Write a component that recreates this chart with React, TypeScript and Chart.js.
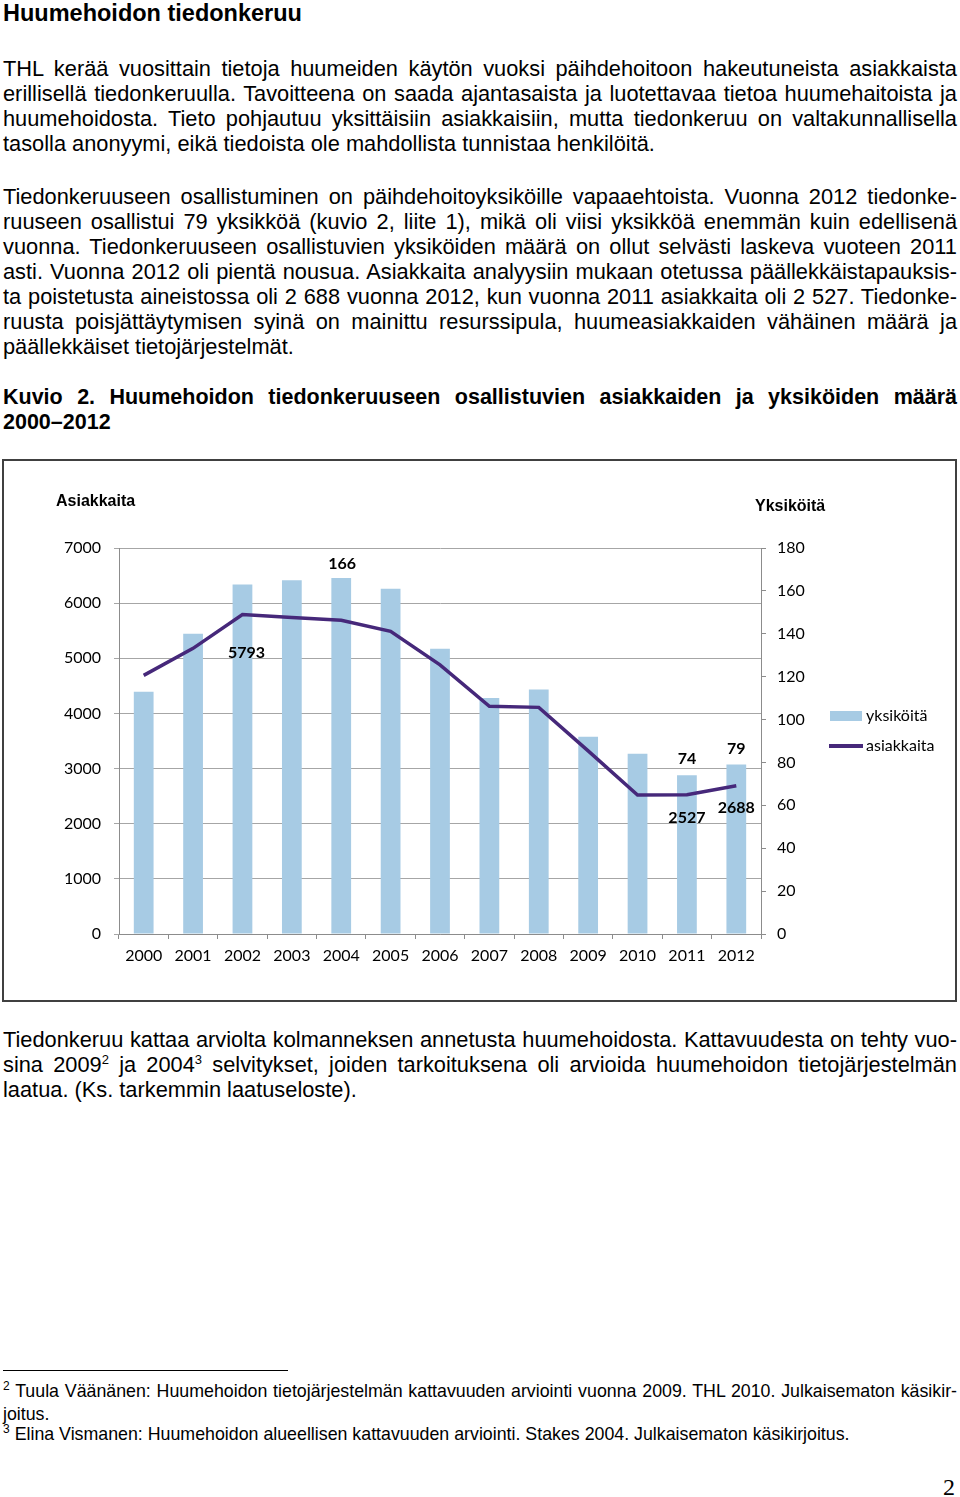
import React, { useEffect, useRef } from "react";
import { Chart, registerables } from "chart.js";

Chart.register(...registerables);

// ---- chart data ----
const years = ["2000", "2001", "2002", "2003", "2004", "2005", "2006", "2007", "2008", "2009", "2010", "2011", "2012"];
const yksikoita = [113, 140, 163, 165, 166, 161, 133, 110, 114, 92, 84, 74, 79];
const asiakkaita = [4690, 5180, 5793, 5740, 5690, 5490, 4880, 4130, 4110, 3320, 2520, 2527, 2688];
const leftAxisMax = 7000;
const leftAxisStep = 1000;
const rightAxisMax = 180;
const rightAxisStep = 20;
// which points carry a value label: dataset index, point index, offset
const labelSpecs = [
  { ds: 0, i: 4, dx: 1, dy: -14 },
  { ds: 0, i: 11, dx: 0, dy: -16 },
  { ds: 0, i: 12, dx: 0, dy: -16 },
  { ds: 1, i: 2, dx: 4, dy: 38 },
  { ds: 1, i: 11, dx: 0, dy: 23 },
  { ds: 1, i: 12, dx: 0, dy: 22 },
];

const BAR_COLOR = "#a7cbe4";
const LINE_COLOR = "#46287a";
const TICK_FONT = { family: "Lato", size: 16 };

const BODY_FONT = "'Liberation Sans', Arial, sans-serif";

type Line = { t: React.ReactNode; y: number; j: boolean };

const para1: Line[] = [
  { t: "THL kerää vuosittain tietoja huumeiden käytön vuoksi päihdehoitoon hakeutuneista asiakkaista", y: 69, j: true },
  { t: "erillisellä tiedonkeruulla. Tavoitteena on saada ajantasaista ja luotettavaa tietoa huumehaitoista ja", y: 94, j: true },
  { t: "huumehoidosta. Tieto pohjautuu yksittäisiin asiakkaisiin, mutta tiedonkeruu on valtakunnallisella", y: 119, j: true },
  { t: "tasolla anonyymi, eikä tiedoista ole mahdollista tunnistaa henkilöitä.", y: 144, j: false },
];
const para2: Line[] = [
  { t: "Tiedonkeruuseen osallistuminen on päihdehoitoyksiköille vapaaehtoista. Vuonna 2012 tiedonke-", y: 197, j: true },
  { t: "ruuseen osallistui 79 yksikköä (kuvio 2, liite 1), mikä oli viisi yksikköä enemmän kuin edellisenä", y: 222, j: true },
  { t: "vuonna. Tiedonkeruuseen osallistuvien yksiköiden määrä on ollut selvästi laskeva vuoteen 2011", y: 247, j: true },
  { t: "asti. Vuonna 2012 oli pientä nousua. Asiakkaita analyysiin mukaan otetussa päällekkäistapauksis-", y: 272, j: true },
  { t: "ta poistetusta aineistossa oli 2 688 vuonna 2012, kun vuonna 2011 asiakkaita oli 2 527. Tiedonke-", y: 297, j: true },
  { t: "ruusta poisjättäytymisen syinä on mainittu resurssipula, huumeasiakkaiden vähäinen määrä ja", y: 322, j: true },
  { t: "päällekkäiset tietojärjestelmät.", y: 347, j: false },
];
const caption: Line[] = [
  { t: "Kuvio 2. Huumehoidon tiedonkeruuseen osallistuvien asiakkaiden ja yksiköiden määrä", y: 397, j: true },
  { t: "2000–2012", y: 422, j: false },
];
const sup = (s: string) => (
  <sup style={{ fontSize: 13, verticalAlign: "baseline", position: "relative", top: -8 }}>{s}</sup>
);
const para3: Line[] = [
  { t: "Tiedonkeruu kattaa arviolta kolmanneksen annetusta huumehoidosta. Kattavuudesta on tehty vuo-", y: 1040, j: true },
  { t: <>sina 2009{sup("2")} ja 2004{sup("3")} selvitykset, joiden tarkoituksena oli arvioida huumehoidon tietojärjestelmän</>, y: 1065, j: true },
  { t: "laatua. (Ks. tarkemmin laatuseloste).", y: 1090, j: false },
];

function TextLines({ lines, bold }: { lines: Line[]; bold?: boolean }) {
  return (
    <>
      {lines.map((l, k) => (
        <div
          key={k}
          style={{
            position: "absolute",
            left: 3,
            width: 954,
            top: l.y - 13,
            height: 26,
            lineHeight: "26px",
            fontFamily: BODY_FONT,
            fontSize: bold ? 21.5 : 21.8,
            fontWeight: bold ? 700 : 400,
            color: "#000",
            whiteSpace: "nowrap",
            textAlign: l.j ? "justify" : "left",
            textAlignLast: l.j ? "justify" : "left",
          }}
        >
          {l.t}
        </div>
      ))}
    </>
  );
}

const labelPlugin = {
  id: "valueLabels",
  afterDatasetsDraw(chart: any) {
    const ctx = chart.ctx;
    ctx.save();
    ctx.font = "bold 16px Lato";
    ctx.fillStyle = "#000";
    ctx.textAlign = "center";
    ctx.textBaseline = "middle";
    for (const l of labelSpecs) {
      const el = chart.getDatasetMeta(l.ds).data[l.i];
      const v = chart.data.datasets[l.ds].data[l.i];
      if (el) ctx.fillText(String(v), el.x + l.dx, el.y + l.dy);
    }
    ctx.restore();
  },
};

function ChartBox() {
  const ref = useRef<HTMLCanvasElement | null>(null);
  useEffect(() => {
    if (!ref.current) return;
    const chart = new Chart(ref.current, {
      type: "bar",
      data: {
        labels: years,
        datasets: [
          {
            type: "bar",
            label: "yksiköitä",
            data: yksikoita,
            backgroundColor: BAR_COLOR,
            yAxisID: "y1",
            barPercentage: 0.4,
            categoryPercentage: 1,
            order: 2,
          },
          {
            type: "line",
            label: "asiakkaita",
            data: asiakkaita,
            borderColor: LINE_COLOR,
            backgroundColor: LINE_COLOR,
            borderWidth: 3.5,
            pointRadius: 0,
            tension: 0,
            yAxisID: "y",
            order: 1,
          },
        ],
      } as any,
      options: {
        responsive: false,
        maintainAspectRatio: false,
        animation: false,
        layout: { padding: { top: 87, left: 0, right: 0, bottom: 0 } },
        plugins: { legend: { display: false }, tooltip: { enabled: false } },
        scales: {
          x: {
            grid: { drawOnChartArea: false, drawTicks: true, tickLength: 5, color: "#8c8c8c", offset: true },
            border: { color: "#8c8c8c" },
            ticks: { color: "#000", font: TICK_FONT, padding: 7, maxRotation: 0, autoSkip: false },
            afterFit: (s: any) => {
              s.height = 66;
            },
          },
          y: {
            position: "left",
            min: 0,
            max: leftAxisMax,
            ticks: {
              stepSize: leftAxisStep,
              color: "#000",
              font: TICK_FONT,
              padding: 13,
              callback: (v: any) => String(v),
            },
            grid: { color: "#a6a6a6", tickLength: 5 },
            border: { color: "#8c8c8c" },
            afterFit: (s: any) => {
              s.width = 115;
            },
          },
          y1: {
            position: "right",
            min: 0,
            max: rightAxisMax,
            ticks: {
              stepSize: rightAxisStep,
              color: "#000",
              font: TICK_FONT,
              padding: 11,
              callback: (v: any) => String(v),
            },
            grid: { drawOnChartArea: false, tickLength: 5, color: "#8c8c8c" },
            border: { color: "#8c8c8c" },
            afterFit: (s: any) => {
              s.width = 194;
            },
          },
        },
      } as any,
      plugins: [labelPlugin],
    });
    return () => chart.destroy();
  }, []);

  return (
    <div
      style={{
        position: "absolute",
        left: 2,
        top: 459,
        width: 955,
        height: 543,
        boxSizing: "border-box",
        border: "2px solid #404040",
        background: "#fff",
      }}
    >
      <canvas ref={ref} width={951} height={539} style={{ width: 951, height: 539, display: "block" }} />
    </div>
  );
}

export default function App() {
  const legendText = { position: "absolute" as const, fontFamily: "Lato", fontSize: 16, color: "#000", lineHeight: "20px" };
  return (
    <div style={{ position: "absolute", left: 0, top: 0, width: 960, height: 1497, background: "#fff", overflow: "hidden" }}>
      <div
        style={{
          position: "absolute",
          left: 3,
          top: 0,
          height: 26,
          lineHeight: "26px",
          fontFamily: BODY_FONT,
          fontSize: 23.5,
          fontWeight: 700,
          whiteSpace: "nowrap",
        }}
      >
        Huumehoidon tiedonkeruu
      </div>
      <TextLines lines={para1} />
      <TextLines lines={para2} />
      <TextLines lines={caption} bold />

      <ChartBox />
      {/* axis titles */}
      <div style={{ position: "absolute", left: 56, top: 491, fontFamily: BODY_FONT, fontWeight: 700, fontSize: 16, lineHeight: "20px" }}>
        Asiakkaita
      </div>
      <div style={{ position: "absolute", left: 755, top: 496, fontFamily: BODY_FONT, fontWeight: 700, fontSize: 16, lineHeight: "20px" }}>
        Yksiköitä
      </div>
      {/* legend */}
      <div style={{ position: "absolute", left: 830, top: 711, width: 32, height: 10, background: BAR_COLOR }} />
      <div style={{ ...legendText, left: 866, top: 705 }}>yksiköitä</div>
      <div style={{ position: "absolute", left: 829, top: 744, width: 34, height: 4, background: LINE_COLOR }} />
      <div style={{ ...legendText, left: 866, top: 735 }}>asiakkaita</div>

      <TextLines lines={para3} />

      <div style={{ position: "absolute", left: 3, top: 1370, width: 285, height: 1, background: "#000" }} />
      <div
        style={{
          position: "absolute",
          left: 3,
          top: 1381,
          width: 954,
          fontFamily: "'Liberation Sans Narrow', 'Arial Narrow', sans-serif",
          fontSize: 17.8,
          lineHeight: "20.5px",
          color: "#000",
        }}
      >
        <div style={{ whiteSpace: "nowrap", textAlign: "justify", textAlignLast: "justify" }}>
          <sup style={{ fontSize: 12, verticalAlign: "baseline", position: "relative", top: -7 }}>2</sup> Tuula Väänänen: Huumehoidon tietojärjestelmän kattavuuden arviointi vuonna 2009. THL 2010. Julkaisematon käsikir-
        </div>
        <div style={{ whiteSpace: "nowrap" }}>joitus.</div>
        <div style={{ whiteSpace: "nowrap" }}>
          <sup style={{ fontSize: 12, verticalAlign: "baseline", position: "relative", top: -7 }}>3</sup> Elina Vismanen: Huumehoidon alueellisen kattavuuden arviointi. Stakes 2004. Julkaisematon käsikirjoitus.
        </div>
      </div>
      <div style={{ position: "absolute", left: 943, top: 1473, fontFamily: "'Liberation Serif', 'Times New Roman', serif", fontSize: 24, lineHeight: "28px" }}>
        2
      </div>
    </div>
  );
}
